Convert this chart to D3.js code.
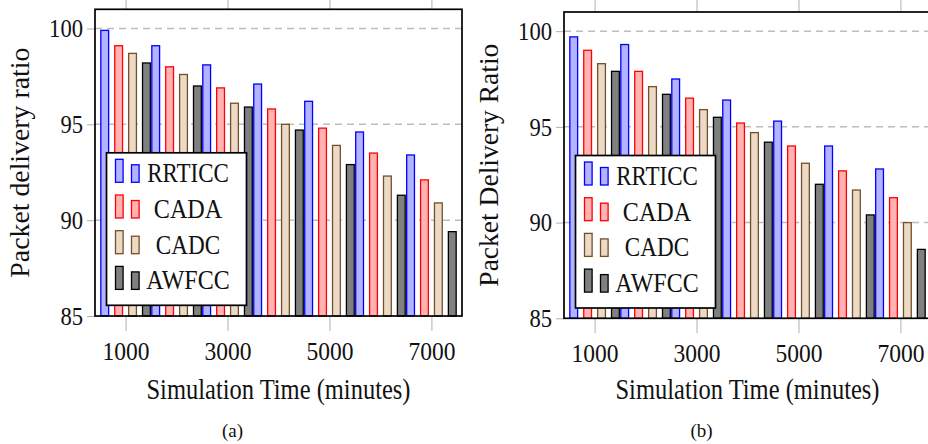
<!DOCTYPE html>
<html>
<head>
<meta charset="utf-8">
<script src="https://cdn.jsdelivr.net/npm/d3@7"></script>
<style>
  html, body { margin: 0; padding: 0; background: #fff; }
  svg { display: block; }
  text { font-family: "Liberation Serif", "Times New Roman", serif; fill: #111; }
</style>
</head>
<body>
<svg id="chart" width="928" height="444"></svg>
<script>
// Simulation time groups (minutes)
const categories = [1000, 2000, 3000, 4000, 5000, 6000, 7000];
const seriesNames = ["RRTICC", "CADA", "CADC", "AWFCC"];
const xTickValues = [1000, 3000, 5000, 7000];
const yTickValues = [85, 90, 95, 100];
const yGridValues = [90, 95, 100];

// Panel (a): packet delivery ratio
const rrticcA = [99.9, 99.1, 98.1, 97.1, 96.2, 94.6, 93.4];
const cadaA   = [99.1, 98.0, 96.9, 95.8, 94.8, 93.5, 92.1];
const cadcA   = [98.7, 97.6, 96.1, 95.0, 93.9, 92.3, 90.9];
const awfccA  = [98.2, 97.0, 95.9, 94.7, 92.9, 91.3, 89.4];

// Panel (b): packet delivery ratio
const rrticcB = [99.7, 99.3, 97.5, 96.4, 95.3, 94.0, 92.8];
const cadaB   = [99.0, 97.9, 96.5, 95.2, 94.0, 92.7, 91.3];
const cadcB   = [98.3, 97.1, 95.9, 94.7, 93.1, 91.7, 90.0];
const awfccB  = [97.9, 96.7, 95.5, 94.2, 92.0, 90.4, 88.6];

const seriesStyle = [
  { stroke: "#0000ff", fill: "#b3b3ff" },
  { stroke: "#ff0000", fill: "#ffb3b3" },
  { stroke: "#73502a", fill: "#ecd9c6" },
  { stroke: "#000000", fill: "#808080" }
];

const svg = d3.select("#chart");

function drawPanel(cfg) {
  const { left, right, top, bottom, series, yTitle, yTitleLen, caption } = cfg;
  const g = svg.append("g");

  const x = d3.scaleLinear().domain([400, 7600]).range([left, right]);
  const y = d3.scaleLinear().domain([85, 101]).range([bottom, top]);

  // dashed horizontal grid
  g.append("g").selectAll("line").data(yGridValues).join("line")
    .attr("x1", left).attr("x2", right)
    .attr("y1", d => y(d)).attr("y2", d => y(d))
    .attr("stroke", "#bdbdbd").attr("stroke-width", 1.5)
    .attr("stroke-dasharray", "7,5");

  // x axis (bottom) with outward ticks
  const xAxis = g.append("g").attr("transform", `translate(0,${bottom})`)
    .call(d3.axisBottom(x).tickValues(xTickValues).tickSize(15).tickFormat(d3.format("d")));
  xAxis.select(".domain").remove();
  xAxis.selectAll(".tick line").attr("stroke", "#b0b0b0").attr("stroke-width", 1);
  xAxis.selectAll(".tick text")
    .attr("y", 44).attr("dy", null)
    .attr("font-size", 25)
    .attr("textLength", 47).attr("lengthAdjust", "spacingAndGlyphs")
    .attr("fill", "#111");

  // top ticks
  const xTop = g.append("g").attr("transform", `translate(0,${top})`)
    .call(d3.axisTop(x).tickValues(xTickValues).tickSize(14).tickFormat(""));
  xTop.select(".domain").remove();
  xTop.selectAll(".tick line").attr("stroke", "#b0b0b0").attr("stroke-width", 1);

  // y axis (left)
  const yAxis = g.append("g").attr("transform", `translate(${left},0)`)
    .call(d3.axisLeft(y).tickValues(yTickValues).tickSize(8).tickPadding(4));
  yAxis.select(".domain").remove();
  yAxis.selectAll(".tick line").attr("stroke", "#b0b0b0").attr("stroke-width", 1);
  yAxis.selectAll(".tick text")
    .attr("x", -12).attr("dy", "0.33em")
    .attr("font-size", 25)
    .attr("textLength", d => String(d).length * 11.3).attr("lengthAdjust", "spacingAndGlyphs")
    .attr("fill", "#222");

  // bars
  const shift = 13.9, bw = 7.8;
  series.forEach((vals, si) => {
    g.append("g").selectAll("rect").data(vals).join("rect")
      .attr("x", (d, i) => x(categories[i]) + (si - 1.5) * shift - bw / 2)
      .attr("width", bw)
      .attr("y", d => y(d))
      .attr("height", d => y(85) - y(d))
      .attr("fill", seriesStyle[si].fill)
      .attr("stroke", seriesStyle[si].stroke)
      .attr("stroke-width", 1.3);
  });

  // legend
  const lx = left + 11.5, ly = top + 143.5;
  const lg = g.append("g").attr("transform", `translate(${lx},${ly})`);
  lg.append("rect").attr("width", 140).attr("height", 152.5)
    .attr("fill", "#fff").attr("stroke", "#000").attr("stroke-width", 1.7);
  const textLens = [81.7, 68.4, 64.3, 83.3];
  seriesNames.forEach((name, si) => {
    const base = 29.5 + si * 35.7;
    const row = lg.append("g");
    row.append("rect").attr("x", 9).attr("y", base - 23).attr("width", 7.6).attr("height", 23)
      .attr("fill", seriesStyle[si].fill).attr("stroke", seriesStyle[si].stroke).attr("stroke-width", 1.3);
    row.append("rect").attr("x", 25).attr("y", base - 17.5).attr("width", 7.6).attr("height", 17.5)
      .attr("fill", seriesStyle[si].fill).attr("stroke", seriesStyle[si].stroke).attr("stroke-width", 1.3);
    row.append("text").attr("x", 81.5).attr("y", base)
      .attr("text-anchor", "middle").attr("font-size", 27.5)
      .attr("textLength", textLens[si]).attr("lengthAdjust", "spacingAndGlyphs")
      .text(name);
  });

  // frame
  g.append("rect").attr("x", left).attr("y", top)
    .attr("width", right - left).attr("height", bottom - top)
    .attr("fill", "none").attr("stroke", "#000").attr("stroke-width", 1.7);

  // axis titles
  g.append("text")
    .attr("transform", `translate(${left - 66},${(top + bottom) / 2}) rotate(-90)`)
    .attr("text-anchor", "middle").attr("font-size", 28)
    .attr("textLength", yTitleLen).attr("lengthAdjust", "spacingAndGlyphs")
    .attr("fill", "#222")
    .text(yTitle);
  g.append("text")
    .attr("x", (left + right) / 2).attr("y", 398.5)
    .attr("text-anchor", "middle").attr("font-size", 29)
    .attr("textLength", 264).attr("lengthAdjust", "spacingAndGlyphs")
    .text("Simulation Time (minutes)");
  g.append("text")
    .attr("x", left + 137.5).attr("y", 437)
    .attr("text-anchor", "middle").attr("font-size", 19)
    .text(caption);
}

drawPanel({
  left: 95, right: 462, top: 9.3, bottom: 316,
  series: [rrticcA, cadaA, cadcA, awfccA],
  yTitle: "Packet delivery ratio", yTitleLen: 230, caption: "(a)"
});
drawPanel({
  left: 564, right: 931, top: 12, bottom: 318.3,
  series: [rrticcB, cadaB, cadcB, awfccB],
  yTitle: "Packet Delivery Ratio", yTitleLen: 243, caption: "(b)"
});
</script>
</body>
</html>
